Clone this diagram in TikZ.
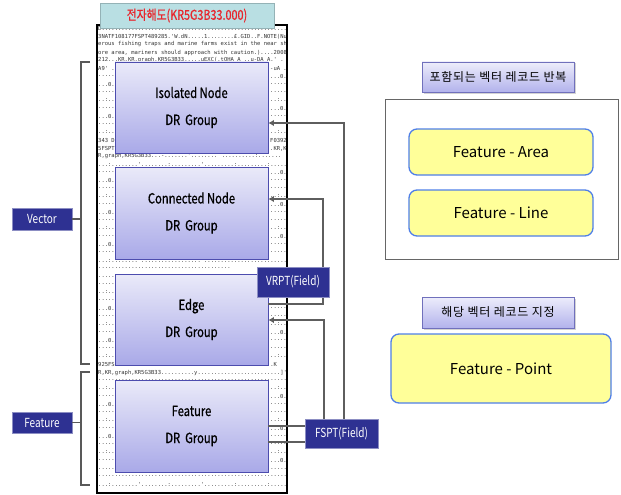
\documentclass[tikz,border=0pt]{standalone}
\usepackage{fontspec}
\setmainfont{Noto Sans CJK KR}
\newfontfamily\cond[FakeStretch=0.8]{Noto Sans CJK KR}
\newfontfamily\condb[FakeStretch=0.8,FakeBold=0.8]{Noto Sans CJK KR}
\newfontfamily\hdfont[LetterSpace=6]{Noto Sans CJK KR}
\newfontfamily\dumpf{DejaVu Sans Mono}
\usetikzlibrary{arrows.meta,shadows}
\definecolor{navy}{HTML}{2E3192}
\definecolor{drtop}{HTML}{EAEAF9}
\definecolor{drbot}{HTML}{A9A9E8}
\definecolor{drborder}{HTML}{4C4CAE}
\definecolor{hdtop}{HTML}{EDEDFB}
\definecolor{hdbot}{HTML}{B2B2EC}
\definecolor{hdborder}{HTML}{7070BC}
\definecolor{yfill}{HTML}{FFFF99}
\definecolor{yborder}{HTML}{4F7FE8}
\definecolor{conncol}{HTML}{5E5E5E}
\definecolor{titlefill}{HTML}{B9DFE3}
\definecolor{titletext}{HTML}{E8262D}
\begin{document}
\begin{tikzpicture}[x=1pt,y=-1pt,
  drbox/.style={draw=drborder, line width=0.8pt, top color=drtop, bottom color=drbot,
    minimum width=153pt, inner sep=0pt, align=center,
    font={\condb\fontsize{14pt}{27pt}\selectfont},
    drop shadow={shadow xshift=1.2pt, shadow yshift=-1.2pt, opacity=0.35}},
  lbl/.style={fill=navy, draw=navy!55!white, line width=0.6pt, text=white, inner sep=0pt,
    font={\cond\fontsize{12.5pt}{14pt}\selectfont},
    drop shadow={shadow xshift=1.2pt, shadow yshift=-1.2pt, opacity=0.3}},
  hdbox/.style={draw=hdborder, line width=0.8pt, top color=hdtop, bottom color=hdbot,
    minimum width=152pt, inner sep=0pt, font={\hdfont\fontsize{12pt}{14pt}\selectfont},
    drop shadow={shadow xshift=1.5pt, shadow yshift=-1.5pt, opacity=0.35}},
  ybox/.style={draw=yborder, line width=1.3pt, fill=yfill, rounded corners=8pt,
    inner sep=0pt, font={\fontsize{15pt}{17pt}\selectfont}},
  conn/.style={draw=conncol, line width=2.2pt},
  arr/.style={-{Latex[length=5.5pt,width=6.5pt]}},
  brace/.style={draw=black!65, line width=1.4pt},
  dump/.style={anchor=west, inner sep=0pt, text=black!80,
    font={\dumpf\fontsize{5.5pt}{7pt}\selectfont}}
]
\useasboundingbox (0,0) rectangle (621,495);

% ---- text dump panel ----
\begin{scope}
\clip (97,25) rectangle (287,493);
\node[dump] at (98,28.5) {D.........................................................202};
\node[dump] at (98,36.5) {3NATF108177FSPT489285.'W.dN.....1........£.GID..F.NOTE(Num};
\node[dump] at (98,44.5) {erous fishing traps and marine farms exist in the near sh};
\node[dump] at (98,52.5) {ore area, mariners should approach with caution.)....20081};
\node[dump] at (98,60.5) {212...KR,KR,graph,KR5G3B33.....uEXC(.tOHA A ..u-DA A.' .};
\foreach \i in {5,...,57}{
  \pgfmathsetmacro\yy{28.5+8*\i}
  \pgfmathtruncatemacro\inb{(\yy>66)*(\yy<149)+(\yy>171)*(\yy<255)+(\yy>278)*(\yy<361)+(\yy>384)*(\yy<468)}
  \pgfmathtruncatemacro\vr{(\yy>262)*(\yy<302)}
  \pgfmathtruncatemacro\k{mod(\i,4)}
  \ifnum\inb>0
    \node[dump] at (98,\yy) {\ifnum\i=5 A9' .\else\ifnum\i=14 343 D\else\ifnum\i=15 5FSPT\else\ifcase\k .....\or ..:..\or .....\or ...0.\fi\fi\fi\fi};
    \ifnum\vr=0
      \node[dump,anchor=east] at (287,\yy) {\ifnum\i=5 -uA .\else\ifnum\i=14 F0392\else\ifnum\i=15 .KR,K\else\ifcase\k ......\or ...:..\or ....0.\or ..... \fi\fi\fi\fi};
    \fi
  \else
    \ifnum\vr=0
      \node[dump] at (98,\yy) {\ifnum\i=16 R,graph,KR5G3B33...-.......'........ ..........:.......\else\ifnum\i=42 925FS................................................K\else\ifnum\i=43 R,KR,graph,KR5G3B33..........y.........................]'.\else\ifcase\k ..........................................................\or ...:........'........:.........'.........:.........:.....\or .. ......................................................\or ..........:.........:.........,.........:..........:.....\fi\fi\fi\fi};
    \else
      \node[dump] at (98,\yy) {\ifcase\k .......................................\or ..:.......'.......:........'.........\or ........................................\or .......:.........:.........:.........\fi};
    \fi
  \fi
}
\end{scope}
\draw[line width=1.3pt] (97,25) rectangle (287,493);

% ---- title ----
\node[fill=titlefill, draw=titlefill!80!black, line width=0.4pt, minimum width=174pt, minimum height=25pt, inner sep=0pt,
  text=titletext, font={\condb\fontsize{13.5pt}{15pt}\selectfont},
  drop shadow={shadow xshift=1pt, shadow yshift=-1pt, opacity=0.25}]
  (title) at (187,15.5) {전자해도(KR5G3B33.000)};

% ---- DR groups ----
\node[drbox, minimum height=91pt] (iso)   at (191.5,107.5) {Isolated Node\\DR~~Group};
\node[drbox, minimum height=92pt] (cnode) at (191.5,213)   {Connected Node\\DR~~Group};
\node[drbox, minimum height=91pt] (edge)  at (191.5,319.5) {Edge\\DR~~Group};
\node[drbox, minimum height=92pt] (feat)  at (191.5,426)   {Feature\\DR~~Group};

% ---- left labels and braces ----
\node[lbl, minimum width=60pt, minimum height=22pt] (vector) at (42,219) {Vector};
\node[lbl, minimum width=60pt, minimum height=21pt] (featlbl) at (42,422.5) {Feature};
\coordinate (bx) at (81,0);
\draw[brace] (90,62) -- (81,62) -- (81,364) -- (90,364);
\draw[brace] (vector.east) -- (vector.east -| bx);
\draw[brace] (90,372) -- (81,372) -- (81,485) -- (90,485);
\draw[brace] (featlbl.east) -- (featlbl.east -| bx);

% ---- FSPT field ----
\node[lbl, minimum width=73pt, minimum height=29pt] (fspt) at (341.5,433.5) {FSPT(Field)};

% ---- connectors ----
\coordinate (p1) at (344,123);
\coordinate (p2) at (324,320);
\coordinate (v1) at (323,304);
\coordinate (v2) at (323,199);
\coordinate (f1) at (0,426);
\coordinate (f2) at (0,442);
\draw[conn,arr] (fspt.north -| p1) |- (iso.east |- p1);
\draw[conn,arr] (fspt.north -| p2) |- (edge.east |- p2);
\draw[conn,arr] (edge.east |- v1) -| (v2) -- (cnode.east |- v2);
\draw[conn] (fspt.west |- f1) -- (feat.east |- f1);
\draw[conn] (fspt.west |- f2) -- (feat.east |- f2);

% ---- VRPT field ----
\node[lbl, minimum width=72pt, minimum height=30pt] (vrpt) at (293,282) {VRPT(Field)};

% ---- right side ----
\node[hdbox, minimum height=30pt] (hd1) at (498,77) {포함되는 벡터 레코드 반복};
\node[draw=black!60, line width=0.9pt, minimum width=233pt, minimum height=160pt, inner sep=0pt] (frame) at (501.5,179) {};
\node[ybox, minimum width=184pt, minimum height=46pt] (area) at (501,152) {Feature - Area};
\node[ybox, minimum width=184pt, minimum height=46pt] (line) at (501,213) {Feature - Line};
\node[hdbox, minimum height=31pt] (hd2) at (498,312.5) {해당 벡터 레코드 지정};
\node[ybox, minimum width=220pt, minimum height=69pt] (point) at (501,368.5) {Feature - Point};
\end{tikzpicture}
\end{document}
